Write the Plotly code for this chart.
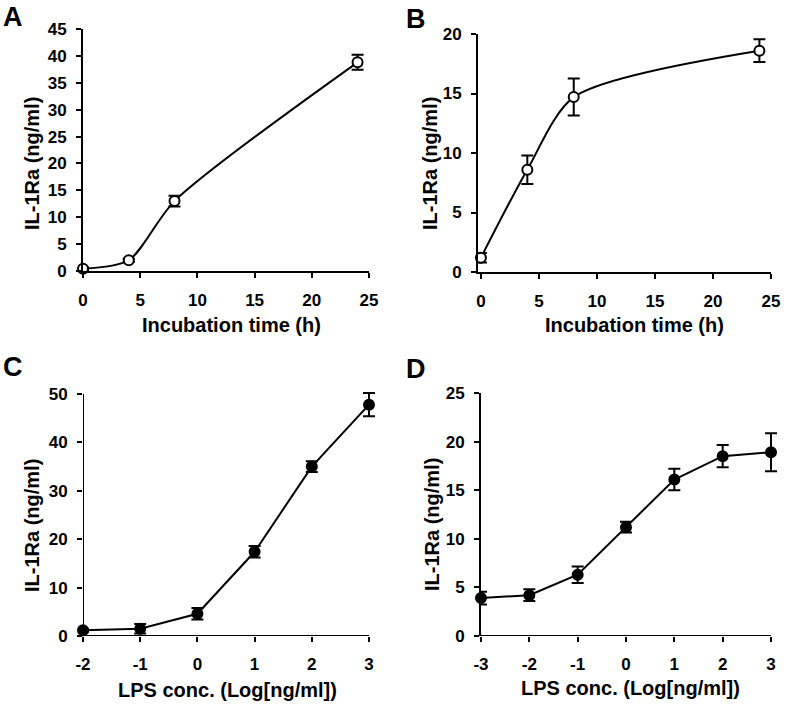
import plotly.graph_objects as go

# ---- data ----
a_time = [0, 4, 8, 24]
a_val = [0.4, 2.0, 13.0, 38.8]
a_err = [0.25, 0.3, 1.0, 1.4]

b_time = [0, 4, 8, 24]
b_val = [1.2, 8.6, 14.7, 18.6]
b_err = [0.4, 1.2, 1.55, 0.95]

c_conc = [-2, -1, 0, 1, 2, 3]
c_val = [1.2, 1.5, 4.6, 17.4, 35.0, 47.8]
c_err = [0.3, 1.0, 1.2, 1.2, 1.1, 2.4]
c_ticklabels = ["-2", "-1", "0", "1", "2", "3"]

d_conc = [-3, -2, -1, 0, 1, 2, 3]
d_val = [3.9, 4.2, 6.3, 11.2, 16.1, 18.5, 18.9]
d_err = [0.65, 0.6, 0.85, 0.55, 1.1, 1.15, 1.95]
d_ticklabels = ["-3", "-2", "-1", "0", "1", "2", "3"]

y_title = "IL-1Ra (ng/ml)"
x_title_time = "Incubation time (h)"
x_title_lps = "LPS conc. (Log[ng/ml])"

W, H = 787, 710
FONT = "Liberation Sans, Arial, sans-serif"

def fx(px):
    return px / W

def fy(px):
    return 1 - px / H

fig = go.Figure()

panels = [
    # key, x, y, err, open marker, spline, x-dom px, y-dom px, xrange, yrange, dtick,
    # extra px right, extra px top, tick labels
    ("", a_time, a_val, a_err, True, True, (83, 369), (29, 271), [0, 25], [0, 45], 5, 5, 0, 0, None),
    ("2", b_time, b_val, b_err, True, True, (478, 771), (34, 272), [-0.25, 25], [0, 20], 5, 5, 0, 0, None),
    ("3", c_conc, c_val, c_err, False, False, (83, 369), (394, 636), [-2, 3], [0, 50], 1, 10, 8, 4, c_ticklabels),
    ("4", d_conc, d_val, d_err, False, False, (481, 771), (393, 636), [-3, 3], [0, 25], 1, 5, 8, 0, d_ticklabels),
]

shapes = []
for key, xs, ys, es, open_m, spline, xd, yd, xr, yr, xdt, ydt, extra, extra_top, tlabels in panels:
    fig.add_trace(go.Scatter(
        x=xs, y=ys,
        xaxis="x" + key, yaxis="y" + key,
        mode="lines+markers",
        line=dict(color="black", width=2, shape="spline" if spline else "linear",
                  smoothing=0.75),
        marker=dict(size=10, color="white" if open_m else "black",
                    line=dict(color="black", width=2)),
        error_y=dict(type="data", array=es, visible=True, color="black",
                     thickness=2, width=6),
        cliponaxis=False,
        showlegend=False,
    ))
    x_per_unit = (xd[1] - xd[0]) / (xr[1] - xr[0])
    y_per_unit = (yd[1] - yd[0]) / (yr[1] - yr[0])
    xr_ext = [xr[0], xr[1] + extra / x_per_unit]
    yr_ext = [yr[0], yr[1] + extra_top / y_per_unit]
    axis_common = dict(
        linecolor="black", linewidth=2,
        ticks="outside", ticklen=5, tickwidth=2, tickcolor="black",
        showgrid=False, zeroline=False, automargin=False,
        tickfont=dict(family=FONT, size=17, color="black", weight="bold"),
        fixedrange=True,
    )
    xa = dict(domain=[fx(xd[0]), fx(xd[1] + extra)], range=xr_ext,
              anchor="y" + key, ticklabelstandoff=8,
              showline=(extra == 0), **axis_common)
    if tlabels is not None:
        xa.update(tickmode="array", tickvals=xs, ticktext=tlabels)
    else:
        xa.update(dtick=xdt, tick0=0)
    ya = dict(domain=[fy(yd[1]), fy(yd[0] - extra_top)], range=yr_ext, dtick=ydt,
              tick0=0, anchor="x" + key, ticklabelstandoff=6,
              showline=(extra_top == 0), **axis_common)
    fig.update_layout(**{"xaxis" + key: xa, "yaxis" + key: ya})
    if extra:
        shapes.append(dict(type="line", xref="x" + key, yref="y" + key,
                           x0=xr[0], x1=xr[1], y0=yr[0], y1=yr[0],
                           line=dict(color="black", width=2), layer="above"))
    if extra_top:
        shapes.append(dict(type="line", xref="x" + key, yref="y" + key,
                           x0=xr[0], x1=xr[0], y0=yr[0], y1=yr[1],
                           line=dict(color="black", width=2), layer="above"))

annotations = []
# panel letters (box top-left anchored so the box stays inside the page)
for txt, x, y in [("A", 1, 0), ("B", 404, 2), ("C", 1, 350), ("D", 404, 352)]:
    annotations.append(dict(text=txt, x=fx(x), y=fy(y), xref="paper", yref="paper",
                            showarrow=False, xanchor="left", yanchor="top",
                            font=dict(family=FONT, size=27, color="black", weight="bold")))
# y titles
for x, y in [(32, 164), (430, 164), (32, 526), (432, 525)]:
    annotations.append(dict(text=y_title, x=fx(x), y=fy(y), xref="paper", yref="paper",
                            showarrow=False, textangle=-90, xanchor="center", yanchor="middle",
                            font=dict(family=FONT, size=20, color="black", weight="bold")))
# x titles
for txt, x, y in [(x_title_time, 232, 325), (x_title_time, 634, 325),
                  (x_title_lps, 227, 690), (x_title_lps, 630, 688)]:
    annotations.append(dict(text=txt, x=fx(x), y=fy(y), xref="paper", yref="paper",
                            showarrow=False, xanchor="center", yanchor="middle",
                            font=dict(family=FONT, size=20, color="black", weight="bold")))

fig.update_layout(
    template="none",
    width=W, height=H,
    margin=dict(l=0, r=0, t=0, b=0, pad=0, autoexpand=False),
    paper_bgcolor="white", plot_bgcolor="white",
    annotations=annotations,
    shapes=shapes,
    font=dict(family=FONT, color="black"),
)

fig.write_html("out.html",
               config=dict(displayModeBar=False, staticPlot=True),
               post_script="document.body.style.margin='0';document.body.style.overflow='hidden';")
